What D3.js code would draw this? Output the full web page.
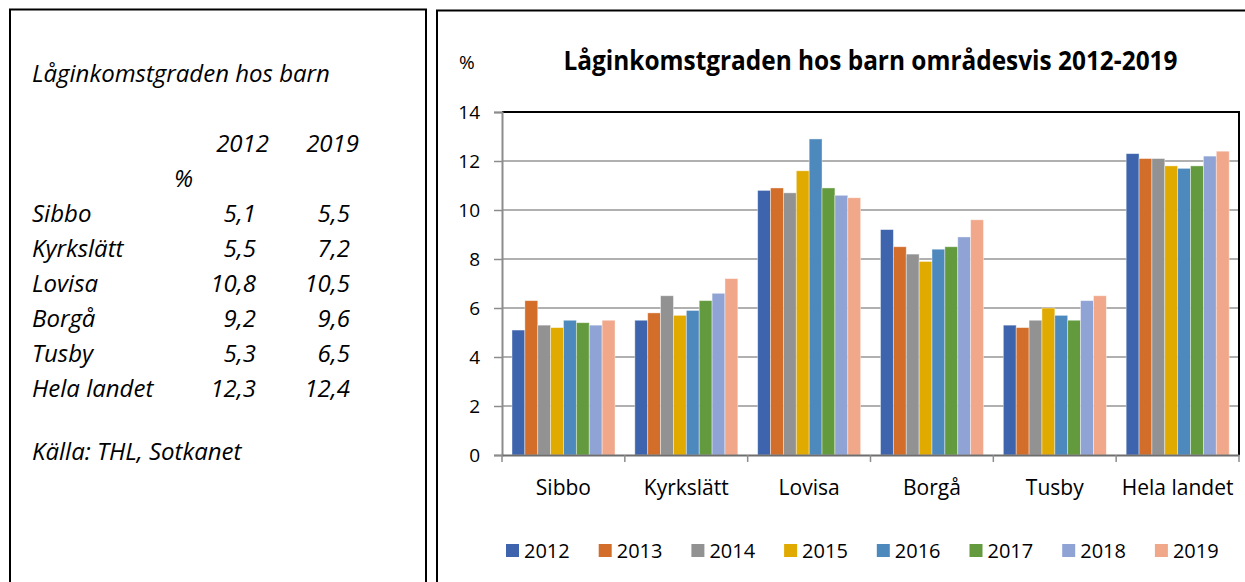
<!DOCTYPE html>
<html>
<head>
<meta charset="utf-8">
<script src="https://cdn.jsdelivr.net/npm/d3@7"></script>
<style>
  body { margin: 0; background: #fff; }
  svg { display: block; }
</style>
</head>
<body>
<svg width="1245" height="582"></svg>
<script>
// chart data
const areas = ["Sibbo", "Kyrkslätt", "Lovisa", "Borgå", "Tusby", "Hela landet"];
const years = ["2012", "2013", "2014", "2015", "2016", "2017", "2018", "2019"];
const values = [
  [5.1, 6.3, 5.3, 5.2, 5.5, 5.4, 5.3, 5.5],
  [5.5, 5.8, 6.5, 5.7, 5.9, 6.3, 6.6, 7.2],
  [10.8, 10.9, 10.7, 11.6, 12.9, 10.9, 10.6, 10.5],
  [9.2, 8.5, 8.2, 7.9, 8.4, 8.5, 8.9, 9.6],
  [5.3, 5.2, 5.5, 6.0, 5.7, 5.5, 6.3, 6.5],
  [12.3, 12.1, 12.1, 11.8, 11.7, 11.8, 12.2, 12.4]
];
const yTicks = [0, 2, 4, 6, 8, 10, 12, 14];
const colors = ["#3d64ad", "#d26d2a", "#929292", "#e0aa00", "#4e89bd", "#629a3d", "#8fa4d5", "#f1a78a"];

// table in the left box
const tableTitle = "Låginkomstgraden hos barn";
const tableYears = ["2012", "2019"];
const table2012 = ["5,1", "5,5", "10,8", "9,2", "5,3", "12,3"];
const table2019 = ["5,5", "7,2", "10,5", "9,6", "6,5", "12,4"];
const source = "Källa: THL, Sotkanet";

const svg = d3.select("svg");
const chartFont = "'Open Sans', sans-serif";
const boxFont = "'Open Sans', sans-serif";

// boxes
svg.append("path")
  .attr("d", "M10,583 V9.5 H426 V583")
  .style("fill", "none")
  .style("stroke", "#000")
  .style("stroke-width", 2);
svg.append("path")
  .attr("d", "M437,583 V10.5 H1246")
  .style("fill", "none")
  .style("stroke", "#000")
  .style("stroke-width", 2);

// left box text
const box = svg.append("g")
  .style("font-family", boxFont)
  .style("font-style", "italic")
  .style("font-size", "24px")
  .style("fill", "#000");

box.append("text").attr("x", 32).attr("y", 82).text(tableTitle);
box.append("text").attr("x", 269).attr("y", 152).attr("text-anchor", "end").text(tableYears[0]);
box.append("text").attr("x", 359).attr("y", 152).attr("text-anchor", "end").text(tableYears[1]);
box.append("text").attr("x", 193).attr("y", 187).attr("text-anchor", "end").text("%");

for (let i = 0; i < areas.length; i++) {
  let rowY = 222 + i * 34.9;
  box.append("text").attr("x", 32).attr("y", rowY).text(areas[i]);
  box.append("text").attr("x", 256).attr("y", rowY).attr("text-anchor", "end").text(table2012[i]);
  box.append("text").attr("x", 350).attr("y", rowY).attr("text-anchor", "end").text(table2019[i]);
}
box.append("text").attr("x", 32).attr("y", 460).text(source);

// chart
const x0 = d3.scaleBand().domain(areas).range([502, 1239]);
const x1 = d3.scaleBand().domain(years).range([10, 113]);
const y = d3.scaleLinear().domain([0, 14]).range([455, 112]);

// gridlines
svg.append("g")
  .selectAll("line")
  .data(yTicks.slice(1, -1))
  .join("line")
  .attr("x1", 502)
  .attr("x2", 1239)
  .attr("y1", d => y(d))
  .attr("y2", d => y(d))
  .style("stroke", "#969696")
  .style("stroke-width", 1.5);

// bars
const groups = svg.append("g")
  .selectAll("g")
  .data(areas)
  .join("g")
  .attr("transform", d => "translate(" + x0(d) + ",0)");

groups.selectAll("rect")
  .data((d, i) => values[i].map((v, j) => ({ year: years[j], v: v, c: colors[j] })))
  .join("rect")
  .attr("x", d => x1(d.year))
  .attr("y", d => y(d.v))
  .attr("width", x1.bandwidth())
  .attr("height", d => y(0) - y(d.v))
  .style("fill", d => d.c)
  .style("stroke", "#fff")
  .style("stroke-opacity", 0.5)
  .style("stroke-width", 0.8);

// plot frame, top and right
svg.append("path")
  .attr("d", "M502,112 H1239 V455")
  .style("fill", "none")
  .style("stroke", "#000")
  .style("stroke-width", 2);

// y axis
const yAxis = svg.append("g")
  .attr("transform", "translate(502,0)")
  .call(d3.axisLeft(y).tickValues(yTicks).tickSize(8).tickPadding(14));
yAxis.select(".domain").style("stroke", "#8c8c8c").style("stroke-width", 2);
yAxis.selectAll(".tick line").style("stroke", "#8c8c8c").style("stroke-width", 1.5);
yAxis.selectAll("text")
  .style("font-family", chartFont)
  .style("font-size", "19px")
  .style("fill", "#000");

// x axis
const xAxis = svg.append("g")
  .attr("transform", "translate(0,455)")
  .call(d3.axisBottom(x0).tickSize(0).tickPadding(25));
xAxis.select(".domain").style("stroke", "#6e6e6e").style("stroke-width", 2);
xAxis.selectAll("text")
  .style("font-family", chartFont)
  .style("font-size", "21px")
  .style("fill", "#000");

// category boundary ticks
svg.append("g")
  .selectAll("line")
  .data(areas.concat(["end"]))
  .join("line")
  .attr("x1", (d, i) => 502 + i * x0.step())
  .attr("x2", (d, i) => 502 + i * x0.step())
  .attr("y1", 455)
  .attr("y2", 462)
  .style("stroke", "#8c8c8c")
  .style("stroke-width", 1.5);

// titles
svg.append("text")
  .attr("x", 870.5)
  .attr("y", 70)
  .attr("text-anchor", "middle")
  .style("font-family", chartFont)
  .style("font-weight", "bold")
  .style("font-size", "26px")
  .attr("textLength", 614)
  .attr("lengthAdjust", "spacingAndGlyphs")
  .text("Låginkomstgraden hos barn områdesvis 2012-2019");

svg.append("text")
  .attr("x", 459)
  .attr("y", 69)
  .style("font-family", chartFont)
  .style("font-size", "19px")
  .text("%");

// legend
const legend = svg.append("g")
  .selectAll("g")
  .data(years)
  .join("g")
  .attr("transform", (d, i) => "translate(" + (506 + i * 92.7) + ",544)");

legend.append("rect")
  .attr("width", 13)
  .attr("height", 13)
  .style("fill", (d, i) => colors[i]);

legend.append("text")
  .attr("x", 18)
  .attr("y", 14)
  .style("font-family", chartFont)
  .style("font-size", "20px")
  .text(d => d);
</script>
</body>
</html>
